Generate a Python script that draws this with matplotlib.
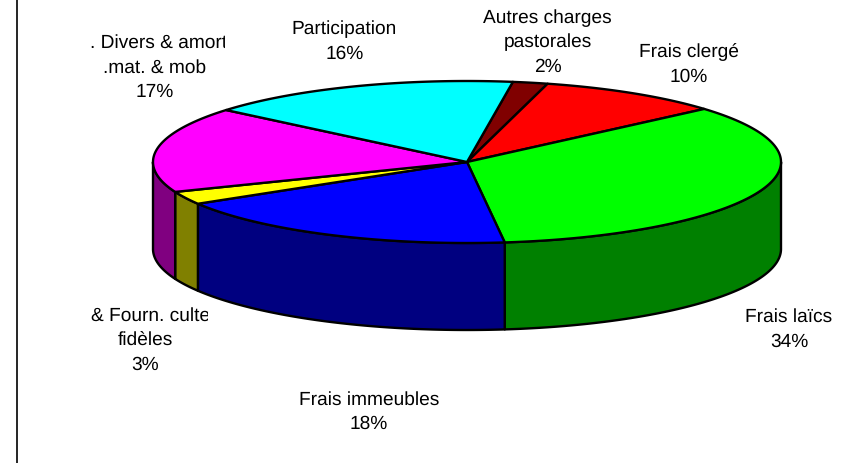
import numpy as np
import matplotlib
matplotlib.use("Agg")
import matplotlib.pyplot as plt
from matplotlib.transforms import Bbox

categories = ["Autres charges\npastorales", "Frais clergé", "Frais laïcs", "Frais immeubles",
              "& Fourn. culte\nfidèles", ". Divers & amort\n.mat. & mob", "Participation"]
values = [1.8, 9.5, 34.45, 18.3, 2.6, 17.1, 16.25]
top_colors = ["#800000", "#FF0000", "#00FF00", "#0000FF", "#FFFF00", "#FF00FF", "#00FFFF"]
side_colors = ["#400000", "#800000", "#008000", "#000080", "#808000", "#800080", "#008080"]

W, H = 845, 463
cx, cy, rx, ry, depth = 467.0, 162.0, 314.0, 81.0, 87.0
start_deg = 8.4

# label centre x, first-line centre y, right clip edge, first-line x shift
label_pos = [(547.5, 18, None, 0), (689, 52, None, 0), (789, 317, None, 0), (369, 399.5, None, 0),
             (145, 316, 208, 6), (155, 43, 225, 4), (344.5, 29, None, 0)]

plt.rcParams["font.family"] = ["Liberation Sans", "DejaVu Sans"]
plt.rcParams["text.hinting"] = "none"
fig = plt.figure(figsize=(W / 100, H / 100), dpi=100)
ax = fig.add_axes([0, 0, 1, 1])
ax.set_xlim(0, W)
ax.set_ylim(H, 0)
ax.axis("off")

ax.plot([17, 17], [0, H], color="black", lw=1.2, solid_capstyle="butt")


def rim(a0, a1, dy=0.0):
    t = np.radians(np.linspace(a0, a1, max(int(abs(a1 - a0) * 2), 2)))
    return np.column_stack([cx + rx * np.sin(t), cy + dy - ry * np.cos(t)])


fractions = np.array(values, dtype=float) / np.sum(values)
edges = start_deg + 360 * np.concatenate([[0], np.cumsum(fractions)])
lw = 1.7

# side walls (front half only, 90..270 degrees clockwise from top)
for i in range(len(values)):
    a0, a1 = max(edges[i], 90), min(edges[i + 1], 270)
    if a0 < a1:
        upper = rim(a0, a1)
        lower = rim(a0, a1, depth)[::-1]
        ax.fill(*np.vstack([upper, lower]).T, fc=side_colors[i], ec="black", lw=lw,
                joinstyle="round", zorder=2)

# top faces
for i in range(len(values)):
    pts = np.vstack([[[cx, cy]], rim(edges[i], edges[i + 1])])
    ax.fill(*pts.T, fc=top_colors[i], ec="black", lw=lw, joinstyle="round", zorder=3)

# labels
line_h = 24.5
for name, pct, (x, y, clip, shift) in zip(categories, values, label_pos):
    for k, line in enumerate(name.split("\n") + [f"{int(pct + 0.5):d}%"]):
        xx = x + shift if k == 0 else x
        t = ax.text(xx, y + k * line_h, line, ha="center", va="center", fontsize=13.8,
                    color="black", zorder=5)
        if clip is not None:
            t.set_clip_box(Bbox([[0, 0], [clip, H]]))
            t.set_clip_on(True)

fig.savefig("out.png", dpi=100, facecolor="white")
